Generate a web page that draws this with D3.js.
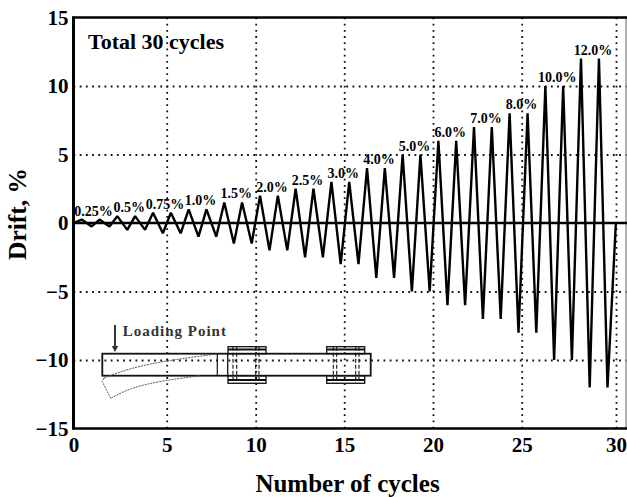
<!DOCTYPE html>
<html><head><meta charset="utf-8">
<script src="https://cdn.jsdelivr.net/npm/d3@7/dist/d3.min.js"></script>
<style>html,body{margin:0;padding:0;background:#fff}svg{display:block}text{font-family:"Liberation Serif",serif;font-weight:bold;fill:#000}</style>
</head><body><div id="c"></div>
<script>
// data
const xTicks=[0,5,10,15,20,25,30];
const yTicks=[-15,-10,-5,0,5,10,15];
const levelLabels=["0.25%","0.5%","0.75%","1.0%","1.5%","2.0%","2.5%","3.0%","4.0%","5.0%","6.0%","7.0%","8.0%","10.0%","12.0%"];
const amplitudes=[0.25,0.25,0.5,0.5,0.75,0.75,1,1,1.5,1.5,2,2,2.5,2.5,3,3,4,4,5,5,6,6,7,7,8,8,10,10,12,12];
const peakTimes=[0.46,1.46,2.46,3.46,4.47,5.47,6.47,7.47,8.47,9.47,10.48,11.48,12.48,13.48,14.49,15.49,16.49,17.49,18.49,19.49,20.5,21.5,22.5,23.5,24.5,25.51,26.51,27.51,28.51,29.52];
const troughTimes=[1.02,2.02,3.02,4.02,5.02,6.02,7.02,8.02,9.01,10.01,11.01,12.01,13.01,14.01,15.01,16.01,17.01,18.01,19.01,20.01,21.01,22,23,24,25,26,27,28,29,30];
const endTime=30.47;

const W=627,H=497,L=73.5,R=616,T=17.5,B=428.5;
const svg=d3.select("#c").append("svg").attr("width",W).attr("height",H);
// the printed axis has slightly uneven tick spacing
const xAxisScale=d3.scaleLinear().domain(xTicks).range([L,166.7,255.7,344.2,433,521.7,R]);
const xData=d3.scaleLinear().domain([0,30.5]).range([L,L+30.5*17.8]);
const y=d3.scaleLinear().domain([-15,15]).range([B,T]);

// grid
const dot="1.8 4.4";
const gx=svg.append("g").attr("transform",`translate(0,${B})`)
 .call(d3.axisBottom(xAxisScale).tickValues(xTicks).tickSizeInner(-(B-T)).tickSizeOuter(0).tickFormat(""));
gx.select(".domain").remove();
gx.selectAll("line").attr("stroke","#111").attr("stroke-width",1.8).attr("stroke-dasharray",dot);
const gy=svg.append("g").attr("transform",`translate(${L},0)`)
 .call(d3.axisLeft(y).tickValues([-10,-5,5,10]).tickSizeInner(-(W-L)).tickSizeOuter(0).tickFormat(""));
gy.select(".domain").remove();
gy.selectAll("line").attr("stroke","#111").attr("stroke-width",1.8).attr("stroke-dasharray",dot);

// frame
svg.append("line").attr("x1",626).attr("x2",626).attr("y1",T).attr("y2",B).attr("stroke","#999").attr("stroke-width",1.5);
const frame=(x1,y1,x2,y2,w)=>svg.append("line").attr("x1",x1).attr("y1",y1).attr("x2",x2).attr("y2",y2).attr("stroke","#000").attr("stroke-width",w);
frame(L,T,W,T,2.5);frame(L,B,W,B,2.5);frame(L,T-1.2,L,B+1.2,3);
frame(L,y(0),W,y(0),2.5);

// tick labels
const tx=svg.append("g").attr("transform",`translate(0,${B})`)
 .call(d3.axisBottom(xAxisScale).tickValues(xTicks).tickSize(0).tickPadding(9));
tx.select(".domain").remove();
tx.selectAll("text").style("font-family",'"Liberation Serif",serif').style("font-size","21px").style("font-weight","bold").attr("fill","#000");
const ty=svg.append("g").attr("transform",`translate(${L},0)`)
 .call(d3.axisLeft(y).tickValues(yTicks).tickSize(0).tickPadding(5));
ty.select(".domain").remove();
ty.selectAll("text").style("font-family",'"Liberation Serif",serif').style("font-size","21px").style("font-weight","bold").attr("fill","#000");

// series
const pts=[[0,0]];
amplitudes.forEach((a,i)=>{pts.push([peakTimes[i],a]);pts.push([troughTimes[i],-a]);});
pts.push([endTime,0]);
svg.append("path").datum(pts)
 .attr("d",d3.line().x(d=>xData(d[0])).y(d=>y(d[1])))
 .attr("fill","none").attr("stroke","#000").attr("stroke-width",2.4).attr("stroke-linejoin","bevel");

// level labels, placed over the two cycles of each level
levelLabels.forEach((t,i)=>{
 const a=amplitudes[i*2], mid=(peakTimes[i*2]+peakTimes[i*2+1])/2;
 svg.append("text").attr("x",xData(mid)+3).attr("y",y(a)-4).attr("text-anchor","middle")
  .style("font-size","14px").text(t);
});

// texts
svg.append("text").attr("x",88).attr("y",49).style("font-size","22px").text("Total 30 cycles");
svg.append("text").attr("x",347.5).attr("y",491.5).attr("text-anchor","middle").style("font-size","25px").text("Number of cycles");
svg.append("text").attr("transform","translate(26,214) rotate(-90)").attr("text-anchor","middle").style("font-size","25.5px").text("Drift, %");

// specimen sketch
const sk=svg.append("g").attr("fill","none").attr("stroke","#111");
const rect=(x,yy,w,h,sw=1.5)=>sk.append("rect").attr("x",x).attr("y",yy).attr("width",w).attr("height",h).attr("stroke-width",sw);
const seg=(a,b,c,d,sw=1.3,dash=null)=>sk.append("line").attr("x1",a).attr("y1",b).attr("x2",c).attr("y2",d).attr("stroke-width",sw).attr("stroke-dasharray",dash);
[[228,266,[5,8.7,27.7,31]],[326.7,364.7,[6.6,10,29,32.3]]].forEach(([a,b,bars])=>{
 rect(a,346.7,b-a,7,1.3);rect(a,375.7,b-a,7.6,1.3);
 seg(a,349.5,b,349.5,1.8);seg(a,380,b,380,1.8);
 bars.forEach(v=>seg(a+v,346.7,a+v,383.3,1.1,"4 2"));
});
rect(102.3,353.7,268.4,22,1.8);
seg(217.3,353.7,217.3,375.7,1.2);seg(227.7,353.7,227.7,375.7,1.3);
const curve=d3.line().curve(d3.curveBasis);
const ds=sk.append("g").attr("stroke","#555").attr("stroke-width",1).attr("stroke-dasharray","2 1");
ds.append("path").attr("d",curve([[217,354],[170,360],[130,368],[104,378]]));
ds.append("path").attr("d",curve([[200,375.7],[160,381],[130,388],[110.7,398.3]]));
ds.append("path").attr("d","M104,378L102.3,381.7L110.7,398.3");
seg(115,325,115,348,2,null).attr("stroke","#333");
svg.append("path").attr("d","M111.8,346L118.2,346L115,352Z").attr("fill","#333");
svg.append("text").attr("x",122.7).attr("y",336).style("font-size","15px").style("letter-spacing","1px").style("fill","#333").text("Loading Point");
</script></body></html>
